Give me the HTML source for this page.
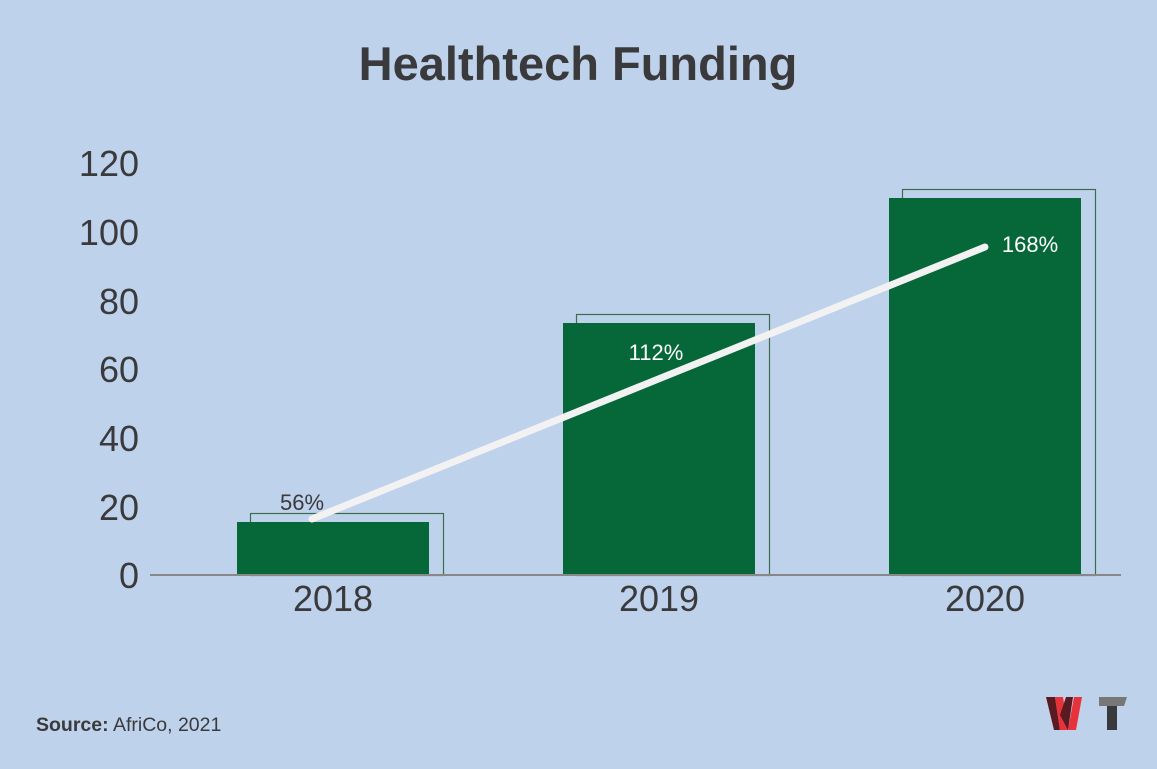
<!DOCTYPE html>
<html><head><style>
body{margin:0;width:1157px;height:764px;background:#bfd2eb;font-family:"Liberation Sans",sans-serif;overflow:hidden}
</style></head><body>
<svg width="1157" height="764" xmlns="http://www.w3.org/2000/svg">
<rect width="1157" height="764" fill="#bfd2eb"/>
<text x="578" y="80" text-anchor="middle" font-size="47" font-weight="bold" fill="#3a3a3c" font-family="Liberation Sans,sans-serif">Healthtech Funding</text>
<g font-size="36" fill="#3a3a3c" text-anchor="end" font-family="Liberation Sans,sans-serif">
<text x="139" y="588">0</text>
<text x="139" y="520">20</text>
<text x="139" y="451">40</text>
<text x="139" y="382">60</text>
<text x="139" y="314">80</text>
<text x="139" y="245">100</text>
<text x="139" y="176">120</text>
</g>
<g fill="none" stroke="#3d6b4e" stroke-width="1.2">
<rect x="250.5" y="513.5" width="193" height="62"/>
<rect x="576.5" y="314.5" width="193" height="261"/>
<rect x="902.5" y="189.5" width="193" height="386"/>
</g>
<g fill="#066838">
<rect x="237" y="522" width="192" height="53"/>
<rect x="563" y="323" width="192" height="252"/>
<rect x="889" y="198" width="192" height="377"/>
</g>
<line x1="150" y1="575" x2="1121" y2="575" stroke="#888" stroke-width="2"/>
<line x1="312" y1="519" x2="985" y2="247" stroke="#f2f2f2" stroke-width="7" stroke-linecap="round"/>
<g font-size="36" fill="#3a3a3c" text-anchor="middle" font-family="Liberation Sans,sans-serif">
<text x="333" y="611">2018</text>
<text x="659" y="611">2019</text>
<text x="985" y="611">2020</text>
</g>
<text x="302" y="510" font-size="22" fill="#3a3a3c" text-anchor="middle">56%</text>
<text x="656" y="360" font-size="22" fill="#fff" text-anchor="middle">112%</text>
<text x="1030" y="252" font-size="22" fill="#fff" text-anchor="middle">168%</text>
<text x="36" y="731" font-size="19.5" fill="#3a3a3c"><tspan font-weight="bold">Source:</tspan> AfriCo, 2021</text>
<polygon points="1046,697 1055,697 1060,730 1054,730" fill="#5a1a22"/>
<polygon points="1055,697 1063,697 1068,730 1060,730" fill="#e8323a"/>
<polygon points="1060,715 1066,697 1073,697 1068,730" fill="#5a1a22"/>
<polygon points="1068,730 1074,697 1082,697 1076,730" fill="#e8323a"/>
<polygon points="1099,697 1127,697 1124,706 1099,706" fill="#777"/>
<rect x="1107" y="706" width="10" height="24" fill="#3a3a3c"/>
</svg>
</body></html>
